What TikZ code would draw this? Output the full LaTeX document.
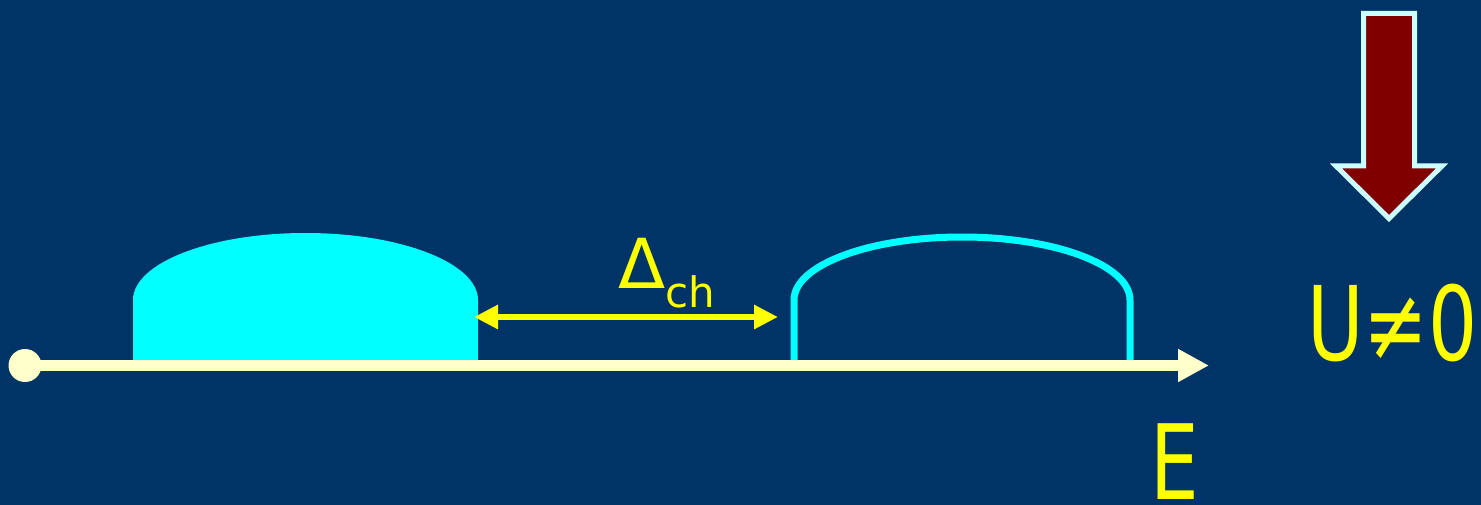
\documentclass[tikz,border=0pt]{standalone}
\usepackage{fontspec}
\setmainfont{DejaVu Sans}
\usetikzlibrary{arrows.meta}

\definecolor{slideblue}{RGB}{0,51,102}
\definecolor{bandcyan}{RGB}{0,255,255}
\definecolor{labelyellow}{RGB}{255,255,0}
\definecolor{axiscream}{RGB}{255,255,204}
\definecolor{arrowred}{RGB}{128,0,0}
\definecolor{arrowrim}{RGB}{204,255,255}

\begin{document}
\begin{tikzpicture}[x=1pt,y=-1pt,>=Stealth,
    axisline/.style={line width=11pt, axiscream, -{Triangle[length=31pt,width=31pt]}},
    gaparrow/.style={line width=6pt, labelyellow, {Triangle[length=24pt,width=23pt]}-{Triangle[length=24pt,width=23pt]}},
    yellowtext/.style={labelyellow, inner sep=0pt, anchor=base west}]

    % --- Background ---
    \fill[slideblue] (0,0) rectangle (1481,505);
    \useasboundingbox (0,0) rectangle (1481,505);

    % --- Key coordinates ---
    \coordinate (Origin) at (25,365.5);
    \coordinate (AxisEnd) at (1209,365.5);
    \coordinate (GapLeft) at (474,317);
    \coordinate (GapRight) at (778,317);

    % --- Filled band (valence) ---
    \fill[bandcyan] (133,365) -- (133,300)
        arc[start angle=-180, end angle=0, x radius=172.5, y radius=67] -- (478,365) -- cycle;

    % --- Empty band (conduction) ---
    \draw[bandcyan, line width=7pt] (794,362) -- (794,300)
        arc[start angle=-180, end angle=0, x radius=168, y radius=63] -- (1130,362);

    % --- Energy axis ---
    \draw[axisline] (Origin) -- (AxisEnd);
    \fill[axiscream] (Origin) circle (16.5);
    \node[yellowtext, text depth=0pt, font=\fontsize{104}{104}\selectfont] (Elabel) at (1150,499)
        {\scalebox{0.74}[1]{E}};

    % --- Gap ---
    \draw[gaparrow] (GapLeft) -- (GapRight);
    \node[yellowtext, font=\fontsize{69}{69}\selectfont] (Gaplabel) at (618,288)
        {Δ\raisebox{-19pt}{\fontsize{42}{42}\selectfont ch}};

    % --- Interaction arrow ---
    \draw[fill=arrowred, draw=arrowrim, line width=5pt, miter limit=4]
        (1363.5,13.5) -- (1414.5,13.5) -- (1414.5,166) -- (1442,166) -- (1389,218.5)
        -- (1336,166) -- (1363.5,166) -- cycle;
    \node[yellowtext, font=\fontsize{103}{103}\selectfont] (Ulabel) at (1307,360)
        {\scalebox{0.75}[1]{U≠0}};

\end{tikzpicture}
\end{document}
